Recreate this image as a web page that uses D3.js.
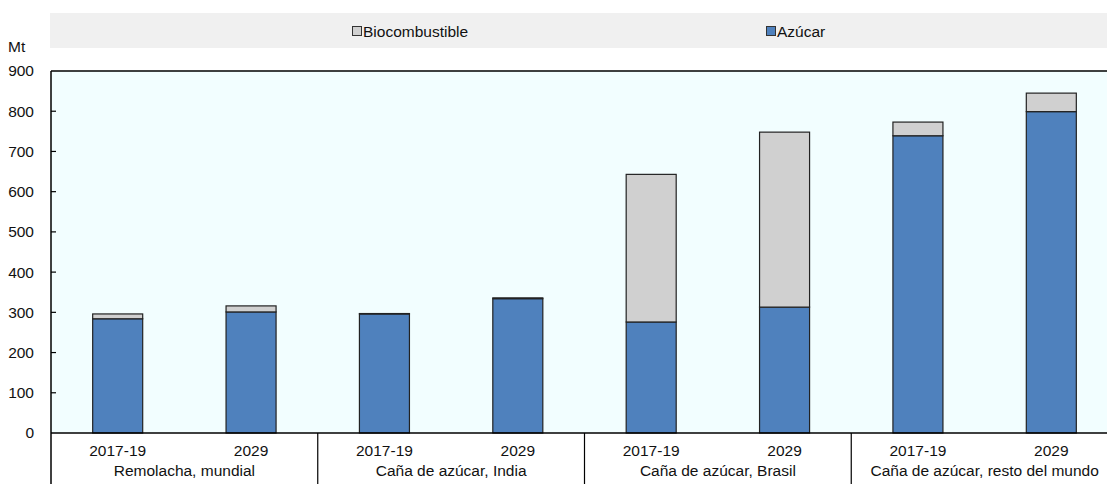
<!DOCTYPE html>
<html>
<head>
<meta charset="utf-8">
<script src="https://cdn.jsdelivr.net/npm/d3@7.9.0/dist/d3.min.js"></script>
<style>
  html, body { margin: 0; padding: 0; background: #fff; }
  svg { display: block; font-family: "Liberation Sans", Arial, sans-serif; }
</style>
</head>
<body>
<svg id="chart" width="1107" height="484"></svg>
<script>
const groups = ['Remolacha, mundial', 'Caña de azúcar, India', 'Caña de azúcar, Brasil', 'Caña de azúcar, resto del mundo'];
const periods = ['2017-19', '2029'];
const azucar = [284, 301, 296, 334, 276, 313, 739, 799];
const biocombustible = [12, 15, 1, 2, 367, 435, 34, 46];
const yTicks = [0, 100, 200, 300, 400, 500, 600, 700, 800, 900];

const colors = { azucar: '#4f81bd', bio: '#d0d0d0' };
const textColor = '#111';
const fontSize = 15.5;

const svg = d3.select('#chart');
const plotLeft = 51, plotRight = 1118, plotTop = 71, plotBottom = 433;

// one row per bar
let rows = [];
groups.forEach((g, gi) => {
  periods.forEach((p, pi) => {
    let i = gi * periods.length + pi;
    rows.push({ key: g + '|' + p, group: g, period: p, azucar: azucar[i], bio: biocombustible[i] });
  });
});

let x = d3.scaleBand()
  .domain(rows.map((d) => d.key))
  .range([plotLeft, plotRight])
  .paddingInner(0.625)
  .paddingOuter(0.3125);

let xGroup = d3.scaleBand()
  .domain(groups)
  .range([plotLeft, plotRight]);

let y = d3.scaleLinear()
  .domain([0, 900])
  .range([plotBottom, plotTop]);

// legend band
svg.append('rect')
  .attr('x', 50).attr('y', 13)
  .attr('width', 1107 - 50).attr('height', 35)
  .attr('fill', '#f0f0f0');

let legendItems = [
  { label: 'Biocombustible', color: colors.bio, x: 352 },
  { label: 'Azúcar', color: colors.azucar, x: 766 }
];
legendItems.forEach((d) => {
  svg.append('rect')
    .attr('x', d.x + 0.5).attr('y', 26.5)
    .attr('width', 9).attr('height', 9)
    .attr('fill', d.color)
    .attr('stroke', '#333').attr('stroke-width', 1);
  svg.append('text')
    .attr('x', d.x + 11).attr('y', 37)
    .attr('font-size', fontSize).attr('fill', textColor)
    .text(d.label);
});

// plot background
svg.append('rect')
  .attr('x', plotLeft).attr('y', plotTop)
  .attr('width', 1107 - plotLeft).attr('height', plotBottom - plotTop)
  .attr('fill', '#f2feff');

// stacked bars
let stack = d3.stack().keys(['azucar', 'bio']);
let series = stack(rows);

series.forEach((s) => {
  svg.append('g')
    .selectAll('rect')
    .data(s)
    .join('rect')
    .attr('x', (d) => x(d.data.key))
    .attr('width', x.bandwidth())
    .attr('y', (d) => y(d[1]))
    .attr('height', (d) => y(d[0]) - y(d[1]))
    .attr('fill', colors[s.key])
    .attr('stroke', '#222')
    .attr('stroke-width', 1.2);
});

// y axis
let yAxis = d3.axisLeft(y)
  .tickValues(yTicks)
  .tickSize(0)
  .tickPadding(17);

let gy = svg.append('g')
  .attr('transform', `translate(${plotLeft},0)`)
  .call(yAxis);
gy.select('.domain').remove();
gy.selectAll('text')
  .attr('font-size', fontSize)
  .attr('font-family', '"Liberation Sans", Arial, sans-serif')
  .attr('fill', textColor);

// inner tick marks
svg.append('g')
  .selectAll('line')
  .data(yTicks.filter((t) => t > 0 && t < 900))
  .join('line')
  .attr('x1', plotLeft).attr('x2', plotLeft + 5)
  .attr('y1', (d) => y(d)).attr('y2', (d) => y(d))
  .attr('stroke', '#000').attr('stroke-width', 1.2);

svg.append('text')
  .attr('x', 8).attr('y', 52)
  .attr('font-size', fontSize).attr('fill', textColor)
  .text('Mt');

// frame lines
svg.append('line')
  .attr('x1', plotLeft).attr('x2', 1107)
  .attr('y1', plotTop).attr('y2', plotTop)
  .attr('stroke', '#000').attr('stroke-width', 1.5);
svg.append('line')
  .attr('x1', plotLeft).attr('x2', 1107)
  .attr('y1', plotBottom).attr('y2', plotBottom)
  .attr('stroke', '#000').attr('stroke-width', 1.5);
svg.append('line')
  .attr('x1', plotLeft).attr('x2', plotLeft)
  .attr('y1', plotTop).attr('y2', 484)
  .attr('stroke', '#000').attr('stroke-width', 1.5);

// group separators
svg.append('g')
  .selectAll('line')
  .data(groups.slice(1))
  .join('line')
  .attr('x1', (d) => xGroup(d)).attr('x2', (d) => xGroup(d))
  .attr('y1', plotBottom).attr('y2', 484)
  .attr('stroke', '#000').attr('stroke-width', 1.2);

// period labels
svg.append('g')
  .selectAll('text')
  .data(rows)
  .join('text')
  .attr('x', (d) => x(d.key) + x.bandwidth() / 2)
  .attr('y', 456)
  .attr('text-anchor', 'middle')
  .attr('font-size', fontSize).attr('fill', textColor)
  .text((d) => d.period);

// group labels
svg.append('g')
  .selectAll('text')
  .data(groups)
  .join('text')
  .attr('x', (d) => xGroup(d) + xGroup.bandwidth() / 2)
  .attr('y', 476)
  .attr('text-anchor', 'middle')
  .attr('font-size', fontSize).attr('fill', textColor)
  .text((d) => d);
</script>
</body>
</html>
